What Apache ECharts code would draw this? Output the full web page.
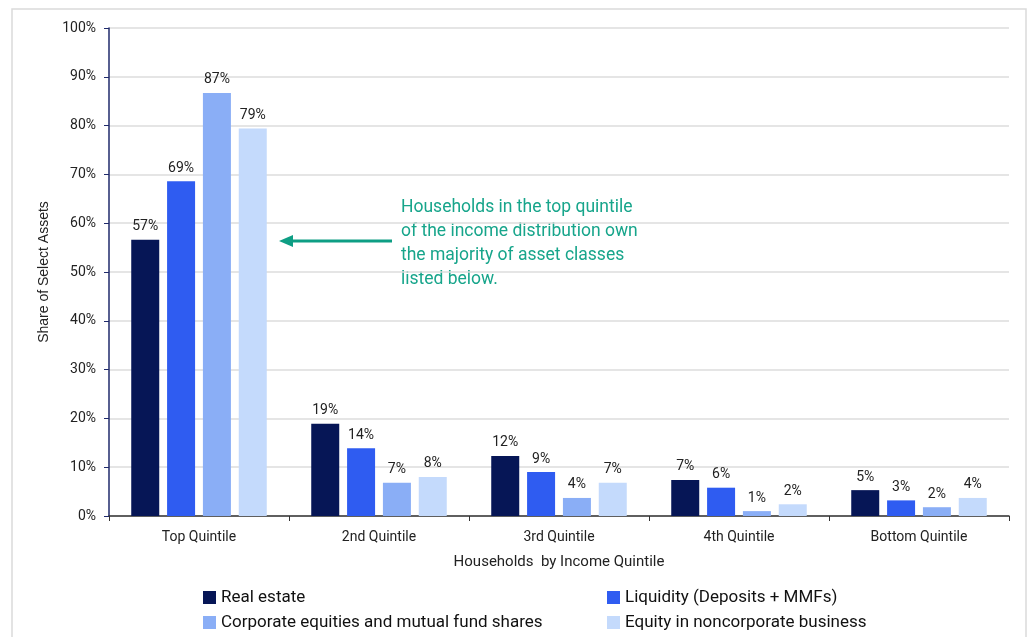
<!DOCTYPE html>
<html>
<head>
<meta charset="utf-8">
<script src="https://cdn.jsdelivr.net/npm/echarts@6/dist/echarts.min.js"></script>
<style>
  html, body { margin: 0; padding: 0; background: #fff; }
  #chart { width: 1029px; height: 637px; }
</style>
</head>
<body>
<div id="chart"></div>
<script>
// categories and series (share of each asset class, %)
var quintiles = ['Top Quintile', '2nd Quintile', '3rd Quintile', '4th Quintile', 'Bottom Quintile'];
var realEstate = [56.6, 18.9, 12.3, 7.4, 5.3];
var liquidity = [68.6, 13.9, 9.0, 5.8, 3.2];
var corpEquities = [86.7, 6.8, 3.7, 1.0, 1.8];
var noncorpEquity = [79.4, 8.0, 6.8, 2.4, 3.7];
var seriesNames = ['Real estate', 'Liquidity (Deposits + MMFs)', 'Corporate equities and mutual fund shares', 'Equity in noncorporate business'];
var seriesColors = ['#061656', '#2F5CF1', '#8AAEF6', '#C4DAFC'];
var noteLines = [
  'Households in the top quintile',
  'of the income distribution own',
  'the majority of asset classes',
  'listed below.'
];

var font = 'Roboto, "Liberation Sans", sans-serif';
var chart = echarts.init(document.getElementById('chart'));

function bar(name, data, i) {
  return {
    name: name,
    type: 'bar',
    data: data,
    barWidth: 28,
    barGap: '28%',
    itemStyle: { color: seriesColors[i] },
    label: {
      show: true,
      position: 'top',
      distance: 6,
      color: '#222',
      fontSize: 14,
      fontFamily: font,
      formatter: function (p) { return Math.round(p.value) + '%'; }
    }
  };
}

// one legend per entry so they sit in two fixed columns
var legendSpots = [[203, 589], [607, 589], [203, 614], [607, 614]];
var legends = seriesNames.map(function (n, i) {
  return {
    left: legendSpots[i][0], top: legendSpots[i][1],
    padding: 0,
    itemWidth: 13, itemHeight: 13, icon: 'rect', itemGap: 0,
    textStyle: { fontSize: 17, color: '#111', fontFamily: font },
    data: [n]
  };
});

var option = {
  animation: false,
  grid: { left: 109, right: 20, top: 28, bottom: 121 },
  legend: legends,
  xAxis: {
    type: 'category',
    data: quintiles,
    name: 'Households  by Income Quintile',
    nameLocation: 'middle',
    nameGap: 39,
    nameTextStyle: { fontSize: 15, color: '#222', fontFamily: font },
    axisLine: { lineStyle: { color: '#333', width: 1.5 } },
    axisTick: { show: true, length: 5, lineStyle: { color: '#333' } },
    axisLabel: { fontSize: 14, color: '#222', fontFamily: font, margin: 14 }
  },
  yAxis: {
    type: 'value',
    min: 0, max: 100, interval: 10,
    name: 'Share of Select Assets',
    nameLocation: 'middle',
    nameGap: 56,
    nameTextStyle: { fontSize: 14, color: '#222', fontFamily: '"Liberation Sans", Arial, sans-serif' },
    axisLine: { show: true, lineStyle: { color: '#1F2A6B', width: 1.5 } },
    axisTick: { show: true, length: 5, lineStyle: { color: '#1F2A6B' } },
    axisLabel: { fontSize: 14, color: '#222', fontFamily: font, margin: 13, formatter: '{value}%' },
    splitLine: { lineStyle: { color: '#DDDDDD', width: 1.5 } }
  },
  series: [
    bar(seriesNames[0], realEstate, 0),
    bar(seriesNames[1], liquidity, 1),
    bar(seriesNames[2], corpEquities, 2),
    bar(seriesNames[3], noncorpEquity, 3)
  ],
  graphic: [
    {
      type: 'rect', silent: true, z: -1,
      shape: { x: 12, y: 9, width: 1014, height: 640 },
      style: { fill: 'none', stroke: '#DADADA', lineWidth: 1.5 }
    },
    {
      type: 'text', left: 401, top: 196,
      style: {
        text: noteLines.join('\n'),
        fill: '#17A58B', fontSize: 17.5, lineHeight: 24, fontFamily: font
      }
    },
    {
      type: 'line',
      shape: { x1: 392, y1: 241, x2: 292, y2: 241 },
      style: { stroke: '#0E9E84', lineWidth: 3 }
    },
    {
      type: 'polygon',
      shape: { points: [[279, 241], [293, 235], [293, 247]] },
      style: { fill: '#0E9E84' }
    }
  ]
};

chart.setOption(option);
</script>
</body>
</html>
